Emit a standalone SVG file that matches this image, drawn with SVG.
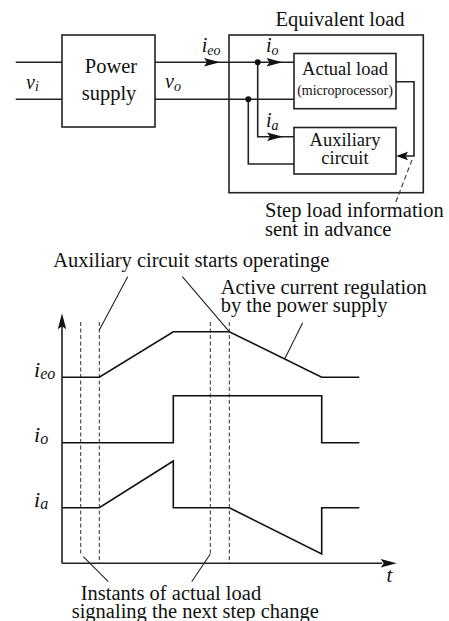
<svg xmlns="http://www.w3.org/2000/svg" width="449" height="621" viewBox="0 0 449 621">
<style>
text{font-family:"Times New Roman","Liberation Serif","DejaVu Serif",serif;fill:#111}
.t{font-size:20.5px}
.m{font-size:18.5px;text-anchor:middle}
.s{font-size:14px;text-anchor:middle}
.v{font-style:italic;font-size:20px}
.vl{font-style:italic;font-size:22px}
.sub{font-size:14px}
.subl{font-size:16px}
.box{fill:none;stroke:#222;stroke-width:1.6}
.ln{fill:none;stroke:#222;stroke-width:1.6}
.wf{fill:none;stroke:#111;stroke-width:1.6}
.ld{fill:none;stroke:#222;stroke-width:1.1}
.dsh{fill:none;stroke:#333;stroke-width:1;stroke-dasharray:4 2.5}
.ah{fill:#111}
</style>
<defs>
<path id="arr" d="M0,0 L-16,-4.2 L-13,0 L-16,4.2 Z"/>
</defs>

<g id="power-supply">
<rect class="box" x="62" y="35" width="93" height="92"/>
<text class="t" x="111" y="72.5" text-anchor="middle" font-family="Liberation Serif, serif">Power</text>
<text class="t" x="109" y="100" text-anchor="middle" font-family="Liberation Serif, serif">supply</text>
</g>

<g id="equivalent-load">
<rect class="box" x="229" y="35" width="194.3" height="157.7"/>
<text class="t" x="340" y="26" text-anchor="middle">Equivalent load</text>
</g>

<g id="actual-load">
<rect class="box" x="294" y="53.5" width="102" height="55.2"/>
<text class="m" x="345" y="75">Actual load</text>
<text class="s" x="345" y="94.5">(microprocessor)</text>
</g>

<g id="auxiliary-circuit">
<rect class="box" x="294" y="127.5" width="102" height="46.5"/>
<text class="m" x="345" y="145.5">Auxiliary</text>
<text class="m" x="345" y="163.5">circuit</text>
</g>

<g id="connectors">
<path class="ln" d="M15.7,62.3 H62 M15.7,99.3 H62"/>
<path class="ln" d="M155,62.3 H294 M155,99.3 H294"/>
<path class="ln" d="M257.7,62.3 V136.7 H294"/>
<path class="ln" d="M248.3,99.3 V164 H294"/>
<path class="ln" d="M396,81.7 H414 V156 H400"/>
<circle class="ah" cx="257.7" cy="62.3" r="3"/>
<circle class="ah" cx="248.3" cy="99.3" r="3"/>
<use href="#arr" class="ah" transform="translate(220,62.3)"/>
<use href="#arr" class="ah" transform="translate(282.5,62.3)"/>
<use href="#arr" class="ah" transform="translate(283,136.7)"/>
<use href="#arr" class="ah" transform="translate(396,156) scale(-0.75,1)"/>
<path class="dsh" d="M412,160 L395,204" style="stroke-width:1.1;stroke-dasharray:5 3"/>
</g>

<g id="labels-top">
<text class="v" x="26" y="88.5">v<tspan class="sub" dy="2.5">i</tspan></text>
<text class="v" x="165" y="88.3">v<tspan class="sub" dy="2.5">o</tspan></text>
<text class="v" x="201.7" y="51.7">i<tspan class="sub" dy="3">eo</tspan></text>
<text class="v" x="266" y="51.7">i<tspan class="sub" dy="3">o</tspan></text>
<text class="v" x="266" y="126.7">i<tspan class="sub" dy="3">a</tspan></text>
<text class="t" x="265" y="217">Step load information</text>
<text class="t" x="265" y="236">sent in advance</text>
</g>

<g id="timing">
<path class="ln" d="M62,563.3 V326 M62,563.3 H382"/>
<use href="#arr" class="ah" transform="translate(62,313.3) rotate(-90)"/>
<use href="#arr" class="ah" transform="translate(396.7,563.3)"/>
<path class="dsh" d="M80.7,322 V555 M99.3,322 V563 M210.3,322 V555 M229.3,322 V563"/>
<path class="wf" d="M62,377.3 H99.3 L173.3,331.7 H229.3 L321.7,377.3 H359.3"/>
<path class="wf" d="M62,442.7 H173.3 V395.7 H321.7 V442.7 H359.3"/>
<path class="wf" d="M62,507.7 H99.3 L173.3,461 V507.7 H229.3 L321.7,554 V507.7 H359.3"/>
<path class="ld" d="M127.7,276.7 L99.3,330 M182.3,276.7 L229.3,331.7"/>
<path class="ld" d="M302.7,322.7 L285,358.3"/>
<path class="ld" d="M83.3,556.7 L108.3,581.7 M191.7,581.7 L210.3,554"/>
<text class="vl" x="34" y="376.7">i<tspan class="subl" dy="2">eo</tspan></text>
<text class="vl" x="34" y="441.7">i<tspan class="subl" dy="2">o</tspan></text>
<text class="vl" x="34" y="506.7">i<tspan class="subl" dy="2">a</tspan></text>
<text class="vl" x="386.5" y="581.7" style="font-size:21px">t</text>
<text class="t" x="53.3" y="266.7">Auxiliary circuit starts operatinge</text>
<text class="t" x="220.7" y="294.3">Active current regulation</text>
<text class="t" x="220.7" y="311.7">by the power supply</text>
<text class="t" x="80.7" y="600">Instants of actual load</text>
<text class="t" x="71.7" y="617.5">signaling the next step change</text>
</g>
</svg>
